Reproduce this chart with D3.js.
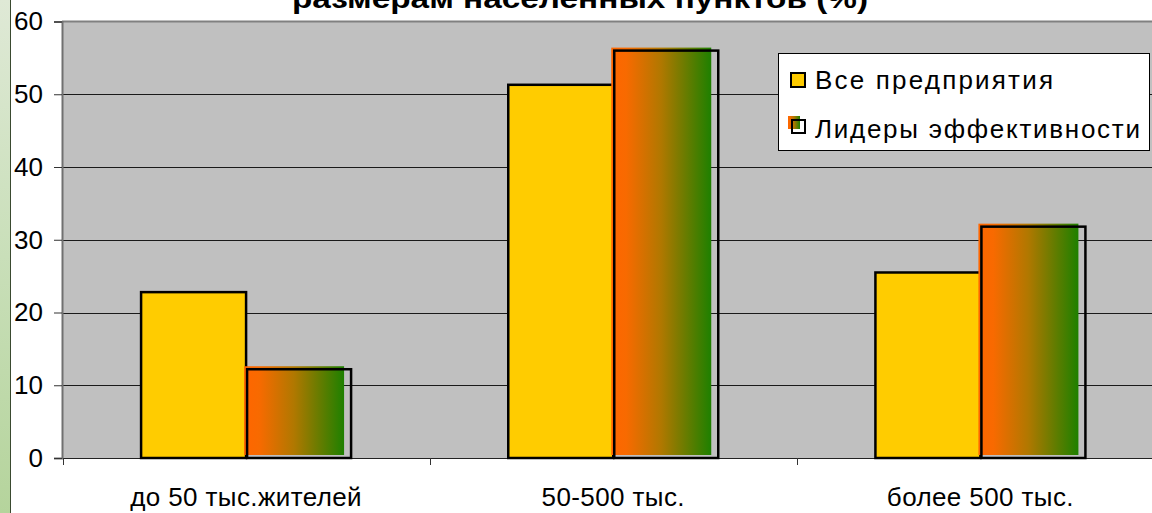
<!DOCTYPE html>
<html><head><meta charset="utf-8">
<script src="https://cdn.jsdelivr.net/npm/d3@7"></script>
<style>html,body{margin:0;padding:0;background:#fff;overflow:hidden}svg{display:block}</style>
</head><body>
<script>
const categories = ["до 50 тыс.жителей", "50-500 тыс.", "более 500 тыс."];
const seriesNames = ["Все предприятия", "Лидеры эффективности"];
const allEnterprises = [22.8, 51.3, 25.5];
const leaders = [12.2, 56.0, 31.8];
const yTicks = [0, 10, 20, 30, 40, 50, 60];
const titleText = "размерам населенных пунктов (%)";

const W = 1152, H = 513;
const FONT = "Arial, 'Liberation Sans', sans-serif";
const svg = d3.select("body").append("svg").attr("width", W).attr("height", H);
const defs = svg.append("defs");
const grad = defs.append("linearGradient").attr("id", "g").attr("x1", "0").attr("x2", "1").attr("y1", "0").attr("y2", "0");
[[0, "#ff6600"], [0.15, "#f86a00"], [0.5, "#b07800"], [1, "#1e8000"]].forEach(([o, c]) =>
  grad.append("stop").attr("offset", o).attr("stop-color", c));
const bg = defs.append("linearGradient").attr("id", "bgg").attr("x1", "0").attr("x2", "0").attr("y1", "0").attr("y2", "1");
[[0, "#dfe9d6"], [0.5, "#c9dfb9"], [1, "#b5d49c"]].forEach(([o, c]) => bg.append("stop").attr("offset", o).attr("stop-color", c));

// left decorative strip
svg.append("rect").attr("x", 0).attr("y", 0).attr("width", 10).attr("height", H).attr("fill", "url(#bgg)");
svg.append("line").attr("x1", 10.5).attr("x2", 10.5).attr("y1", 0).attr("y2", H).attr("stroke", "#3a4a30").attr("stroke-width", 1);

const x = d3.scaleBand().domain(categories).range([62.5, 1164]).padding(0);
const y = d3.scaleLinear().domain([0, 60]).range([458, 21.5]);
const bw = 105;

// plot area
svg.append("rect").attr("x", 62).attr("y", y(60)).attr("width", W - 62).attr("height", y(0) - y(60)).attr("fill", "#c0c0c0");
svg.append("line").attr("x1", 62).attr("x2", W).attr("y1", y(60)).attr("y2", y(60)).attr("stroke", "#808080").attr("stroke-width", 2);

// gridlines
svg.append("g").selectAll("line").data(yTicks.filter(d => d > 0 && d < 60)).join("line")
  .attr("x1", 62).attr("x2", W).attr("y1", d => Math.round(y(d)) + 0.5).attr("y2", d => Math.round(y(d)) + 0.5)
  .attr("stroke", "#1a1a1a").attr("stroke-width", 1);

// y axis
const yAxis = d3.axisLeft(y).tickValues(yTicks).tickSize(8).tickPadding(11);
const yg = svg.append("g").attr("transform", "translate(62,0)").call(yAxis);
yg.attr("font-size", null).attr("font-family", null);
yg.select(".domain").attr("stroke", "#707070").attr("stroke-width", 2);
yg.selectAll(".tick line").attr("stroke", "#333");
yg.selectAll(".tick text").style("font-family", FONT).style("font-size", "26px").attr("fill", "#000");

// x axis
const xAxis = d3.axisBottom(x).tickSize(0).tickPadding(30);
const xg = svg.append("g").attr("transform", `translate(0,${y(0)})`).call(xAxis);
xg.attr("font-size", null).attr("font-family", null);
xg.select(".domain").attr("stroke", "#222").attr("stroke-width", 1);
xg.selectAll(".tick text").style("font-family", FONT).style("font-size", "26px").style("letter-spacing", "0.4px").attr("fill", "#000");
const bounds = categories.map(c => x(c));
svg.append("g").selectAll("line").data(bounds).join("line")
  .attr("x1", d => Math.round(d) + 0.5).attr("x2", d => Math.round(d) + 0.5)
  .attr("y1", y(0)).attr("y2", y(0) + 7).attr("stroke", "#333");

// bars
const cx = c => x(c) + x.bandwidth() / 2;
svg.append("g").selectAll("rect").data(categories).join("rect")
  .attr("x", c => cx(c) - bw).attr("y", (c, i) => y(allEnterprises[i]))
  .attr("width", bw).attr("height", (c, i) => y(0) - y(allEnterprises[i]))
  .attr("fill", "#ffcc00").attr("stroke", "#000").attr("stroke-width", 2.5);

const lg = svg.append("g");
lg.selectAll("rect.fill").data(categories).join("rect").attr("class", "fill")
  .attr("x", c => cx(c) - 2).attr("y", (c, i) => y(leaders[i]) - 3)
  .attr("width", bw - 5).attr("height", (c, i) => y(0) - y(leaders[i]))
  .attr("fill", "url(#g)");
lg.selectAll("rect.out").data(categories).join("rect").attr("class", "out")
  .attr("x", c => cx(c) + 1).attr("y", (c, i) => y(leaders[i]))
  .attr("width", bw - 1).attr("height", (c, i) => y(0) - y(leaders[i]))
  .attr("fill", "none").attr("stroke", "#000").attr("stroke-width", 2.5);

// title (cut off at top, as in the reference)
svg.append("text").attr("x", 580).attr("y", 8).attr("text-anchor", "middle")
  .style("font-family", FONT).style("font-weight", "bold").style("font-size", "28px")
  .attr("textLength", 576).attr("lengthAdjust", "spacingAndGlyphs").text(titleText);

// legend
const leg = svg.append("g");
leg.append("rect").attr("x", 778.5).attr("y", 53.5).attr("width", 371).attr("height", 97)
  .attr("fill", "#fff").attr("stroke", "#000").attr("stroke-width", 1);
leg.append("rect").attr("x", 791).attr("y", 73).attr("width", 14).attr("height", 14)
  .attr("fill", "#ffcc00").attr("stroke", "#000").attr("stroke-width", 2);
leg.append("rect").attr("x", 788).attr("y", 116).attr("width", 12).attr("height", 13).attr("fill", "url(#g)");
leg.append("rect").attr("x", 792).attr("y", 120).attr("width", 13).attr("height", 13)
  .attr("fill", "none").attr("stroke", "#000").attr("stroke-width", 2);
const legLens = [238, 325];
const legY = [89, 138];
seriesNames.forEach((n, i) => {
  leg.append("text").attr("x", 815).attr("y", legY[i])
    .style("font-family", FONT).style("font-size", "26px")
    .attr("textLength", legLens[i]).attr("lengthAdjust", "spacing").text(n);
});
</script>
</body></html>
